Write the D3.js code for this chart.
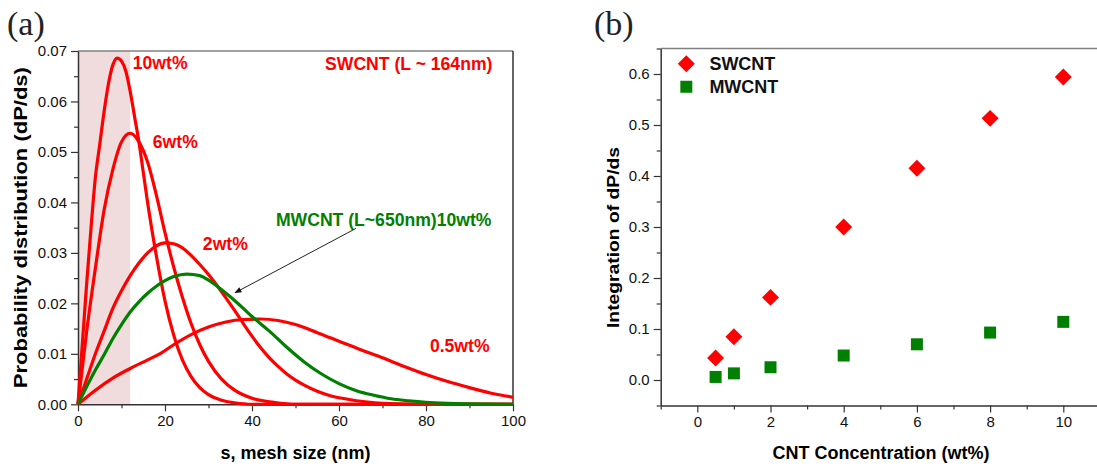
<!DOCTYPE html>
<html><head><meta charset="utf-8">
<script src="https://cdn.jsdelivr.net/npm/d3@7/dist/d3.min.js"></script>
<style>
html,body{margin:0;padding:0;background:#fff;}
svg{display:block;font-family:"Liberation Sans",Arial,sans-serif;}
</style></head>
<body><svg id="c" width="1097" height="467"></svg>
<script>
// ---------- Panel (a) data: mesh size s (nm) vs dP/ds ----------
const s10 = [0,1,2,3,4,5,6,7,8,9,10,11,12,13,14,15,16,18,20,22,24,26,28,30,33,36,40,100];
const v10 = [0,0.012,0.024,0.035,0.045,0.0515,0.058,0.0635,0.0672,0.0686,0.068,0.066,0.062,0.057,0.052,0.046,0.040,0.0295,0.0205,0.0137,0.0088,0.0055,0.0033,0.0019,0.0008,0.0003,0,0];
const s6 = [0,2,4,6,8,10,12,14,16,18,20,22,24,26,28,30,33,36,40,45,50,100];
const v6 = [0,0.0145,0.027,0.0385,0.0465,0.052,0.0537,0.052,0.048,0.0415,0.034,0.0272,0.0212,0.016,0.0118,0.0085,0.0050,0.0028,0.0012,0.0004,0,0];
const s2 = [0,2,4,6,8,10,12,14,16,18,20,22,24,26,28,30,32,34,36,38,40,42,44,46,48,50,52,55,58,62,66,70,80,100];
const v2 = [0,0.005,0.010,0.0145,0.019,0.0225,0.0255,0.028,0.030,0.0314,0.032,0.0318,0.031,0.0295,0.0277,0.0257,0.0235,0.0211,0.0186,0.0160,0.0135,0.0112,0.0092,0.0075,0.0060,0.0048,0.0038,0.0026,0.0017,0.0010,0.0005,0.0002,0,0];
const s05 = [0,4,8,12,16,19,22,26,30,34,38,42,46,50,55,60,65,70,75,80,85,90,95,100];
const v05 = [0,0.0028,0.0052,0.0071,0.0088,0.0101,0.0118,0.0138,0.0153,0.0163,0.0168,0.0169,0.0166,0.0158,0.0142,0.0125,0.0108,0.0092,0.0075,0.0059,0.0045,0.0033,0.0022,0.0014];
const sMW = [0,2,4,6,8,10,12,14,16,18,20,22,25,28,30,32,35,38,40,44,48,52,56,60,64,68,72,76,80,85,90,100];
const vMW = [0,0.0035,0.0068,0.0098,0.013,0.0158,0.0183,0.0203,0.022,0.0234,0.0245,0.0253,0.0258,0.0255,0.0246,0.0234,0.0213,0.019,0.0174,0.0145,0.0113,0.0084,0.006,0.0041,0.0027,0.0018,0.0011,0.0007,0.0004,0.0002,0.0001,0];
const shadedRange = [0, 12];
const aXTicks = [0,20,40,60,80,100];
const aYTicks = [0,0.01,0.02,0.03,0.04,0.05,0.06,0.07];

// ---------- Panel (b) data ----------
const conc = [0.5,1,2,4,6,8,10];
const swcnt = [0.043,0.085,0.162,0.300,0.415,0.513,0.594];
const mwcnt = [0.006,0.013,0.025,0.048,0.070,0.093,0.114];
const bXTicks = [0,2,4,6,8,10];
const bYTicks = [0,0.1,0.2,0.3,0.4,0.5,0.6];

const RED = "#ff0000", GREEN = "#008000";
const svg = d3.select("#c");
svg.append("rect").attr("width",1097).attr("height",467).attr("fill","#fff");

// ================= Panel (a) =================
const xa = d3.scaleLinear().domain([0,100]).range([78,513]);
const ya = d3.scaleLinear().domain([0,0.07]).range([404.3,51]);
const ga = svg.append("g");

ga.append("rect")
  .attr("x", xa(shadedRange[0])).attr("y", ya(0.07))
  .attr("width", xa(shadedRange[1]) - xa(shadedRange[0]))
  .attr("height", ya(0) - ya(0.07))
  .attr("fill", "#f0dcdc");

ga.append("line").attr("x1",xa(0)).attr("x2",xa(100)).attr("y1",ya(0.07)).attr("y2",ya(0.07)).attr("stroke","#808080").attr("stroke-width",1.5);
ga.append("line").attr("x1",xa(100)).attr("x2",xa(100)).attr("y1",ya(0.07)).attr("y2",ya(0)).attr("stroke","#333").attr("stroke-width",1.5);

function styleAxis(g, fs){
  g.select(".domain").attr("stroke","#333").attr("stroke-width",1.5);
  g.selectAll(".tick line").attr("stroke","#333").attr("stroke-width",1.2);
  g.selectAll(".tick text").attr("font-size",fs).attr("fill","#111");
}
const axAMinor = ga.append("g").attr("transform",`translate(0,${ya(0)})`)
  .call(d3.axisBottom(xa).tickValues(d3.range(10,100,20)).tickSize(4).tickFormat(""));
axAMinor.select(".domain").remove(); axAMinor.selectAll("line").attr("stroke","#333").attr("stroke-width",1.2);
const ayAMinor = ga.append("g").attr("transform",`translate(${xa(0)},0)`)
  .call(d3.axisLeft(ya).tickValues(d3.range(0.005,0.07,0.01)).tickSize(4).tickFormat(""));
ayAMinor.select(".domain").remove(); ayAMinor.selectAll("line").attr("stroke","#333").attr("stroke-width",1.2);

const axA = ga.append("g").attr("transform",`translate(0,${ya(0)})`)
  .call(d3.axisBottom(xa).tickValues(aXTicks).tickSize(7).tickSizeOuter(0).tickPadding(4).tickFormat(d3.format("d")));
styleAxis(axA, 15);
const ayA = ga.append("g").attr("transform",`translate(${xa(0)},0)`)
  .call(d3.axisLeft(ya).tickValues(aYTicks).tickSize(7).tickSizeOuter(0).tickPadding(4).tickFormat(d3.format(".2f")));
styleAxis(ayA, 15);

const lineA = d3.line().x(d=>xa(d[0])).y(d=>ya(d[1])).curve(d3.curveMonotoneX);
const curves = [
  {s:s05, v:v05, c:RED},
  {s:s2, v:v2, c:RED},
  {s:s6, v:v6, c:RED},
  {s:s10, v:v10, c:RED},
  {s:sMW, v:vMW, c:GREEN}
];
curves.forEach(cv=>{
  ga.append("path").attr("d", lineA(d3.zip(cv.s, cv.v)))
    .attr("fill","none").attr("stroke",cv.c).attr("stroke-width",3.2).attr("stroke-linejoin","round");
});

const aLabels = [
  {t:"10wt%", s:12.6, v:0.0665, c:RED},
  {t:"6wt%", s:17.2, v:0.0508, c:RED},
  {t:"2wt%", s:28.7, v:0.0306, c:RED},
  {t:"SWCNT (L ~ 164nm)", s:56.8, v:0.0662, c:RED},
  {t:"MWCNT (L~650nm)10wt%", s:45.5, v:0.0353, c:GREEN},
  {t:"0.5wt%", s:80.9, v:0.0103, c:RED}
];
aLabels.forEach(l=>{
  ga.append("text").attr("x",xa(l.s)).attr("y",ya(l.v)).text(l.t)
    .attr("fill",l.c).attr("font-weight","bold").attr("font-size",17.6);
});

svg.append("defs").append("marker").attr("id","arr").attr("viewBox","0 0 10 10")
  .attr("refX",9).attr("refY",5).attr("markerWidth",9).attr("markerHeight",7)
  .attr("markerUnits","userSpaceOnUse").attr("orient","auto")
  .append("path").attr("d","M0,1 L10,5 L0,9 Z").attr("fill","#111");
ga.append("line").attr("x1",xa(63.9)).attr("y1",ya(0.03485)).attr("x2",xa(36.1)).attr("y2",ya(0.0221))
  .attr("stroke","#222").attr("stroke-width",1).attr("marker-end","url(#arr)");

ga.append("text").attr("x",(xa(0)+xa(100))/2).attr("y",459).attr("text-anchor","middle")
  .attr("font-weight","bold").attr("font-size",18).text("s, mesh size (nm)");
ga.append("text").attr("transform",`translate(27,${(ya(0)+ya(0.07))/2}) rotate(-90)`).attr("text-anchor","middle")
  .attr("font-weight","bold").attr("font-size",18).attr("textLength",321).attr("lengthAdjust","spacingAndGlyphs")
  .text("Probability distribution (dP/ds)");
ga.append("text").attr("x",7).attr("y",35).attr("font-family","'Liberation Serif','Times New Roman',serif")
  .attr("font-size",34).attr("fill","#222").text("(a)");

// ================= Panel (b) =================
const xb = d3.scaleLinear().domain([-1,11]).range([660.7,1099.9]);
const yb = d3.scaleLinear().domain([-0.05,0.65]).range([405.5,48.5]);
const gb = svg.append("g");
gb.append("line").attr("x1",xb(-1)).attr("x2",xb(11)).attr("y1",yb(0.65)).attr("y2",yb(0.65)).attr("stroke","#808080").attr("stroke-width",1.5);

const bxMinor = gb.append("g").attr("transform",`translate(0,${yb(-0.05)})`)
  .call(d3.axisBottom(xb).tickValues([-1,1,3,5,7,9,11]).tickSize(4).tickFormat(""));
bxMinor.select(".domain").remove(); bxMinor.selectAll("line").attr("stroke","#333").attr("stroke-width",1.2);
const byMinor = gb.append("g").attr("transform",`translate(${xb(-1)},0)`)
  .call(d3.axisLeft(yb).tickValues([-0.05,0.05,0.15,0.25,0.35,0.45,0.55,0.65]).tickSize(4).tickFormat(""));
byMinor.select(".domain").remove(); byMinor.selectAll("line").attr("stroke","#333").attr("stroke-width",1.2);

const axB = gb.append("g").attr("transform",`translate(0,${yb(-0.05)})`)
  .call(d3.axisBottom(xb).tickValues(bXTicks).tickSize(7).tickSizeOuter(0).tickPadding(4).tickFormat(d3.format("d")));
styleAxis(axB, 15);
const ayB = gb.append("g").attr("transform",`translate(${xb(-1)},0)`)
  .call(d3.axisLeft(yb).tickValues(bYTicks).tickSize(7).tickSizeOuter(0).tickPadding(4).tickFormat(d3.format(".1f")));
styleAxis(ayB, 15);

const sq = d3.symbol().type(d3.symbolSquare).size(144);
gb.selectAll(".sw").data(d3.zip(conc, swcnt)).join("path")
  .attr("d", sq).attr("transform", d=>`translate(${xb(d[0])},${yb(d[1])}) rotate(45)`).attr("fill",RED);
gb.selectAll(".mw").data(d3.zip(conc, mwcnt)).join("path")
  .attr("d", sq).attr("transform", d=>`translate(${xb(d[0])},${yb(d[1])})`).attr("fill",GREEN);

const legend = [{t:"SWCNT", c:RED, rot:45, v:0.62}, {t:"MWCNT", c:GREEN, rot:0, v:0.575}];
legend.forEach(l=>{
  gb.append("path").attr("d", sq).attr("fill", l.c)
    .attr("transform", `translate(${xb(-0.3)},${yb(l.v)}) rotate(${l.rot})`);
  gb.append("text").attr("x", xb(0.33)).attr("y", yb(l.v)+6).text(l.t)
    .attr("font-weight","bold").attr("font-size",18).attr("fill","#111");
});

gb.append("text").attr("x",(770+992)/2).attr("y",459).attr("text-anchor","middle")
  .attr("font-weight","bold").attr("font-size",18).text("CNT Concentration (wt%)");
gb.append("text").attr("transform",`translate(619,${(147+328)/2}) rotate(-90)`).attr("text-anchor","middle")
  .attr("font-weight","bold").attr("font-size",17).attr("textLength",181).attr("lengthAdjust","spacingAndGlyphs")
  .text("Integration of dP/ds");
gb.append("text").attr("x",594).attr("y",35).attr("font-family","'Liberation Serif','Times New Roman',serif")
  .attr("font-size",34).attr("fill","#222").text("(b)");
</script></body></html>
